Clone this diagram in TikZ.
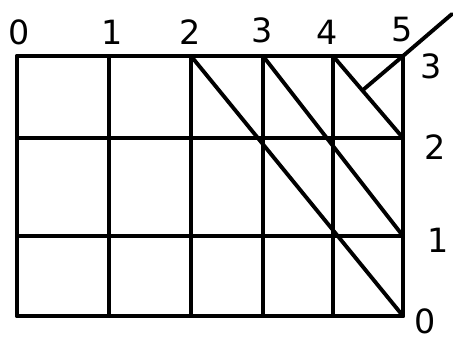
\documentclass[tikz,border=0pt]{standalone}
\usepackage{fontspec}
\setmainfont{DejaVu Sans}
\usetikzlibrary{calc}
\begin{document}
\begin{tikzpicture}[x=0.02cm,y=-0.02cm,
  grid/.style={line width=2.2pt,line cap=round,line join=round},
  lbl/.style={font=\fontsize{19}{20}\selectfont,inner sep=0pt}
]
\useasboundingbox (0,0) rectangle (453,340);
% grid points p<col><row>
\foreach \i/\x in {0/17,1/109,2/191,3/263,4/333,5/403}
  \foreach \j/\y in {3/56,2/138,1/236,0/316}
    \coordinate (p\i\j) at (\x,\y);
\foreach \i in {0,...,5}
  \draw[grid] (p\i3) -- (p\i0);
\foreach \j in {0,...,3}
  \draw[grid] (p0\j) -- (p5\j);
% diagonals
\draw[grid] (p23) -- (p50);
\draw[grid] (p33) -- (p51);
\draw[grid] (p43) -- (p52);
\coordinate (foot) at ($(p43)!0.42!(p52)$);
\coordinate (tail) at (452,14);
\draw[grid] (foot) -- (p53) -- (tail);
% column labels
\foreach \i/\x/\y in {0/19/32,1/112/32,2/190/32,3/262/30,4/327/32,5/402/30}
  \node[lbl] (top\i) at (\x,\y) {\i};
% row labels
\foreach \j/\x/\y in {3/431/66,2/435/147,1/438/240,0/425/321}
  \node[lbl] (side\j) at (\x,\y) {\j};
\end{tikzpicture}
\end{document}
